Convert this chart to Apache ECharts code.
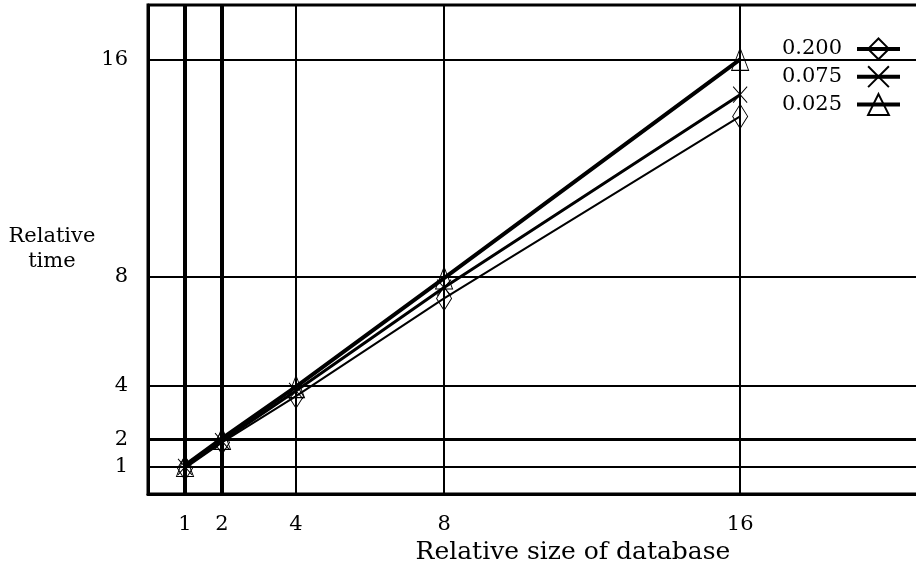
<!DOCTYPE html>
<html>
<head>
<meta charset="utf-8">
<script src="https://cdn.jsdelivr.net/npm/echarts@6/dist/echarts.min.js"></script>
<style>
  html, body { margin: 0; padding: 0; background: #fff; }
  #chart { width: 916px; height: 566px; }
</style>
</head>
<body>
<div id="chart"></div>
<script>
// relative size of database (x) and relative time (y) per selectivity
const sizes = [1, 2, 4, 8, 16];
const tickValues = [1, 2, 4, 8, 16];
const seriesNames = ['0.200', '0.075', '0.025'];
const time200 = [0.95, 1.9, 3.6, 7.2, 13.9];
const time075 = [1.0, 1.95, 3.8, 7.6, 14.7];
const time025 = [1.05, 2.05, 3.95, 7.95, 16.0];

const FONT = 'DejaVu Serif';
const chart = echarts.init(document.getElementById('chart'));

const pairs = (ys) => sizes.map((x, i) => [x, ys[i]]);

// grid lines, the ones at x=1, x=2 and y=2 are drawn heavier
const gridLines = [
  { xAxis: 1, lineStyle: { width: 4 } },
  { xAxis: 2, lineStyle: { width: 4 } },
  { xAxis: 4 },
  { xAxis: 8 },
  { xAxis: 16 },
  { yAxis: 1 },
  { yAxis: 2, lineStyle: { width: 3 } },
  { yAxis: 4 },
  { yAxis: 8 },
  { yAxis: 16 },
];

const markerBase = { color: 'none', borderColor: '#000', borderWidth: 1 };

const option = {
  animation: false,
  backgroundColor: '#fff',
  textStyle: { fontFamily: FONT, color: '#000' },
  grid: {
    left: 148, right: -4, top: 5, bottom: 72,
    outerBoundsMode: 'none',
    show: true, borderColor: '#000', borderWidth: 3,
  },
  legend: {
    orient: 'vertical',
    right: 9,
    top: 31,
    align: 'right',
    itemWidth: 43,
    itemHeight: 26,
    itemGap: 2,
    lineStyle: { width: 4 },
    textStyle: { fontFamily: FONT, fontSize: 21, color: '#000', padding: [0, 10, 0, 0] },
    data: seriesNames,
  },
  xAxis: {
    type: 'value',
    min: 0,
    max: 20.86,
    name: 'Relative size of database',
    nameLocation: 'middle',
    nameGap: 43,
    nameTextStyle: { fontFamily: FONT, fontSize: 25, color: '#000', padding: [0, 0, 0, 78] },
    axisLine: { show: true, lineStyle: { color: '#000', width: 3 } },
    axisTick: { show: false },
    splitLine: { show: false },
    axisLabel: {
      customValues: tickValues,
      margin: 20,
      fontFamily: FONT, fontSize: 21, color: '#000',
    },
  },
  yAxis: {
    type: 'value',
    min: 0,
    max: 18,
    name: 'Relative\ntime',
    nameLocation: 'middle',
    nameRotate: 0,
    nameGap: 92,
    nameTextStyle: {
      fontFamily: FONT, fontSize: 21, color: '#000',
      align: 'center', verticalAlign: 'middle', lineHeight: 25,
    },
    axisLine: { show: true, lineStyle: { color: '#000', width: 3 } },
    axisTick: { show: false },
    splitLine: { show: false },
    axisLabel: {
      customValues: tickValues,
      margin: 20,
      fontFamily: FONT, fontSize: 21, color: '#000',
    },
  },
  series: [
    {
      name: '0.200',
      type: 'line',
      data: pairs(time200),
      symbol: 'diamond',
      symbolSize: [15, 24],
      itemStyle: markerBase,
      lineStyle: { color: '#000', width: 2 },
      markLine: {
        silent: true,
        symbol: 'none',
        label: { show: false },
        lineStyle: { color: '#000', width: 2, type: 'solid' },
        data: gridLines,
      },
      z: 3,
    },
    {
      name: '0.075',
      type: 'line',
      data: pairs(time075),
      symbol: 'path://M0,0L10,10M10,0L0,10',
      symbolSize: [14, 16],
      itemStyle: markerBase,
      lineStyle: { color: '#000', width: 3 },
      z: 4,
    },
    {
      name: '0.025',
      type: 'line',
      data: pairs(time025),
      symbol: 'triangle',
      symbolSize: [17, 22],
      itemStyle: markerBase,
      lineStyle: { color: '#000', width: 4 },
      z: 5,
    },
  ],
};

chart.setOption(option);
</script>
</body>
</html>
